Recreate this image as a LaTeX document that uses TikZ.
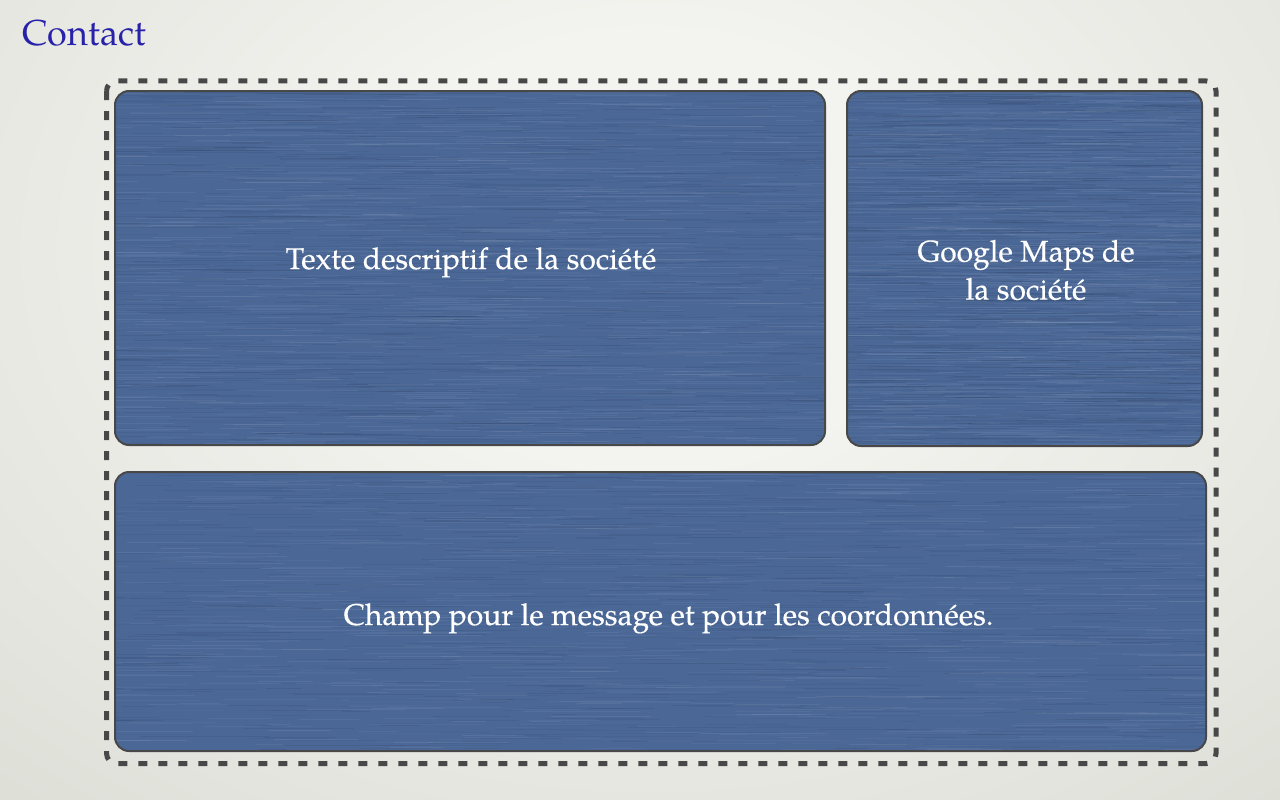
\documentclass[tikz,border=0pt]{standalone}
\usepackage{fontspec}
\setmainfont{TeX Gyre Pagella}
\newfontfamily\panelfont[FakeBold=0.35]{TeX Gyre Pagella}
\definecolor{bgin}{RGB}{243,243,239}
\definecolor{bgout}{RGB}{194,198,185}
\definecolor{titleblue}{RGB}{40,34,170}
\definecolor{boxfill}{RGB}{74,103,150}
\definecolor{boxline}{RGB}{72,72,72}
\definecolor{dashcol}{RGB}{72,72,72}
\pgfdeclareradialshading{bgshade}{\pgfpoint{0bp}{0bp}}{color(0bp)=(bgin); color(8bp)=(bgin); color(52bp)=(bgout); color(80bp)=(bgout)}
\tikzset{
  panel/.style={draw=boxline, line width=2pt, fill=boxfill, rounded corners=14pt, inner sep=0pt},
  paneltext/.style={text=white, inner sep=0pt, font=\panelfont\fontsize{30}{38}\selectfont},
  framedash/.style={draw=dashcol, line width=5pt, dash pattern=on 9pt off 11pt, rounded corners=10pt},
  streak/.style={line width=1pt},
}
\newcommand{\paneltexture}[4]{%
  \begin{scope}
    \clip[rounded corners=14pt] (#1,#2) rectangle (#3,#4);
    \foreach \yy in {#2,...,#4}{%
      \foreach \k in {1,...,5}{%
        \pgfmathsetmacro{\xs}{#1-60+rnd*(#3-#1+60)}%
        \pgfmathsetmacro{\ln}{20+rnd*110}%
        \pgfmathsetmacro{\op}{0.02+rnd*0.05}%
        \pgfmathrandominteger{\cc}{0}{1}%
        \ifnum\cc=0 \def\sc{white}\else\def\sc{black}\fi
        \draw[streak, draw=\sc, opacity=\op] (\xs,\yy+0.5) -- ++(\ln,0);
      }%
    }%
  \end{scope}%
}
\begin{document}
\begin{tikzpicture}[x=1pt,y=-1pt]
\pgfmathsetseed{7}
\useasboundingbox (0,0) rectangle (1280,800);
\begin{scope}
\clip (0,0) rectangle (1280,800);
\shade[shading=bgshade] (-260,-420) rectangle (1560,920);
\end{scope}
\node[anchor=base west, inner sep=0pt, text=titleblue, font=\fontsize{36}{40}\selectfont] (title) at (22,46) {Contact};
\coordinate (fa) at (106.5,81);
\coordinate (fb) at (1216,763.5);
\draw[framedash] (fa) rectangle (fb);
\node[panel, minimum width=710pt, minimum height=354pt] (desc) at (470,268) {};
\node[panel, minimum width=355pt, minimum height=355pt] (maps) at (1024.5,268.5) {};
\node[panel, minimum width=1091pt, minimum height=279pt] (msg) at (660.5,611.5) {};
\paneltexture{116}{92}{824}{444}
\paneltexture{848}{92}{1201}{445}
\paneltexture{116}{473}{1205}{750}
\node[paneltext, anchor=base] (desctext) at (471,269) {Texte descriptif de la société};
\node[paneltext, align=center, anchor=center] (mapstext) at (1026,270) {Google Maps de\\la société};
\node[paneltext, anchor=base] (msgtext) at (668.5,625) {Champ pour le message et pour les coordonnées.};
\end{tikzpicture}
\end{document}
